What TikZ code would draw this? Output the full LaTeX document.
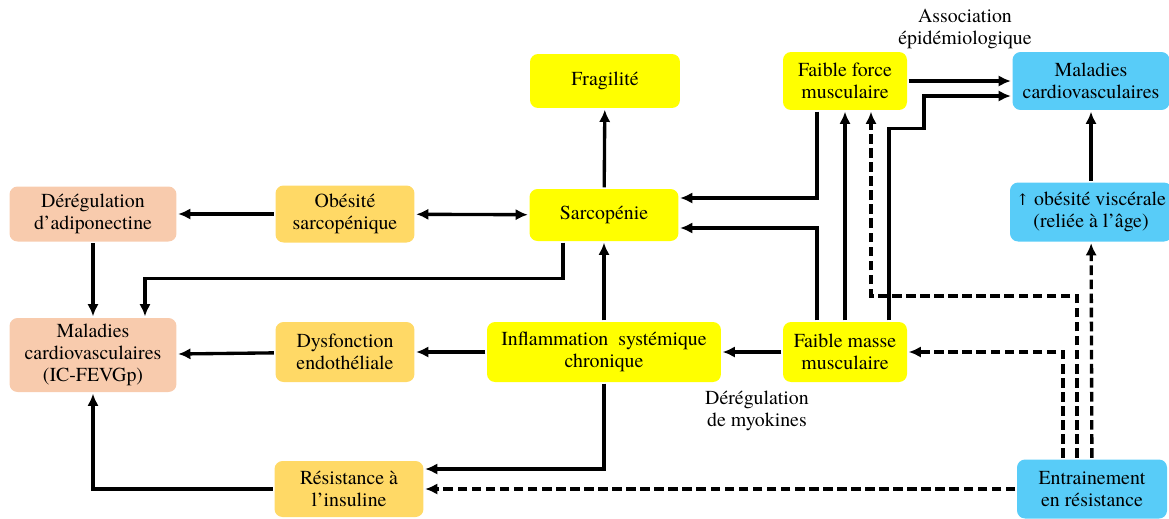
\documentclass[tikz,border=0pt]{standalone}
\usepackage{fontspec}
\setmainfont{TeX Gyre Termes}
\newfontfamily\fleches{DejaVu Serif}
\usepackage{tikz}
\usetikzlibrary{arrows.meta}

\definecolor{jaune}{HTML}{FFFF00}
\definecolor{ocre}{HTML}{FFD966}
\definecolor{saumon}{HTML}{F8CBAD}
\definecolor{bleu}{HTML}{58CCF8}

\begin{document}
\begin{tikzpicture}[->,>={Latex[length=7pt,width=6.5pt]},line width=1.9pt,x=0.02cm,y=-0.02cm,
    font=\fontsize{11.3}{12.5}\selectfont]

    \tikzstyle{box}=[draw=none,rounded corners=0.16cm,align=center,inner sep=2pt,text=black]
    \tikzstyle{jaunebox}=[box,fill=jaune]
    \tikzstyle{ocrebox}=[box,fill=ocre]
    \tikzstyle{saumonbox}=[box,fill=saumon]
    \tikzstyle{bleubox}=[box,fill=bleu]
    \tikzstyle{etiquette}=[align=center]
    \tikzstyle{tirets}=[dash pattern=on 5.5pt off 2.5pt]

    \useasboundingbox (0,0) rectangle (1169,518);

    \node[jaunebox,minimum width=3cm,minimum height=1.08cm]    (fragil) at (605,81)  {Fragilité};
    \node[jaunebox,minimum width=2.48cm,minimum height=1.16cm] (force)  at (845,81)  {Faible force\\musculaire};
    \node[bleubox,minimum width=3.14cm,minimum height=1.16cm]  (malCV)  at (1091,81) {Maladies\\cardiovasculaires};
    \node[saumonbox,minimum width=3.34cm,minimum height=1.1cm] (dereg)  at (93,214)  {Dérégulation\\d’adiponectine};
    \node[ocrebox,minimum width=2.78cm,minimum height=1.14cm]  (obes)   at (345,214) {Obésité\\sarcopénique};
    \node[jaunebox,minimum width=2.98cm,minimum height=1.04cm] (sarco)  at (604,215) {Sarcopénie};
    \node[bleubox,minimum width=3.24cm,minimum height=1.18cm]  (visc)   at (1091,212) {{\fleches\fontsize{9}{12.5}\selectfont↑} obésité viscérale\\(reliée à l’âge)};
    \node[saumonbox,minimum width=3.34cm,minimum height=1.48cm] (malIC) at (93,355)  {Maladies\\cardiovasculaires\\(IC-FEVGp)};
    \node[ocrebox,minimum width=2.78cm,minimum height=1.2cm]   (dysf)   at (345,352) {Dysfonction\\endothéliale};
    \node[jaunebox,minimum width=4.68cm,minimum height=1.2cm]  (inflam) at (604,352) {Inflammation\ \ systémique\\chronique};
    \node[jaunebox,minimum width=2.48cm,minimum height=1.2cm]  (masse)  at (845,352) {Faible masse\\musculaire};
    \node[ocrebox,minimum width=2.98cm,minimum height=1.12cm]  (resist) at (349,489) {Résistance\ à\\l’insuline};
    \node[bleubox,minimum width=3cm,minimum height=1.18cm]     (entr)   at (1092,489) {Entrainement\\en résistance};

    \node[etiquette] (assoc) at (965,29)  {Association\\épidémiologique};
    \node[etiquette] (myok)  at (757,411) {Dérégulation\\de myokines};

    \path (sarco)  edge (fragil)
          (obes)   edge[<->] (sarco)
          (obes)   edge (dereg)
          (dereg)  edge (malIC)
          (dysf)   edge (malIC)
          (inflam) edge (dysf)
          (inflam) edge (sarco)
          (masse)  edge (inflam)
          (masse)  edge (force)
          (force)  edge (malCV)
          (visc)   edge (malCV)
          (entr)   edge[tirets] (visc)
          (entr)   edge[tirets] (resist)
    ;

    \draw ([xshift=-0.82cm]sarco.south) -- ++(0,36) -| ([xshift=1.04cm]malIC.north);
    \draw ([xshift=-0.56cm]force.south) |- ([yshift=0.34cm]sarco.east);
    \draw ([xshift=-0.56cm]masse.north) |- ([yshift=-0.26cm]sarco.east);
    \draw ([xshift=0.88cm]masse.north) -- ++(0,-192) -- ++(35,0) |- ([yshift=-0.3cm]malCV.west);
    \draw (inflam.south) |- ([yshift=0.4cm]resist.east);
    \draw (resist.west) -| (malIC.south);
    \draw[tirets] ([xshift=-0.3cm]entr.north) -- ++(0,-162) -| ([xshift=0.52cm]force.south);
    \draw[tirets] ([xshift=-0.58cm]entr.north) |- (masse.east);
\end{tikzpicture}
\end{document}
